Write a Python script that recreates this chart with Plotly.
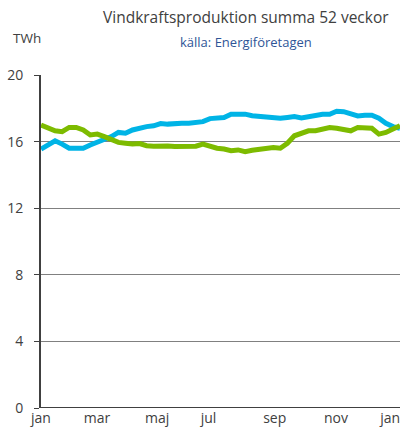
import plotly.graph_objects as go

weeks = list(range(1, 53))
green_vals = [17.0, 16.85, 16.65, 16.6, 16.85, 16.85, 16.7, 16.4, 16.45, 16.3,
              16.1, 15.95, 15.9, 15.85, 15.88, 15.75, 15.72, 15.76, 15.74, 15.7,
              15.7, 15.7, 15.72, 15.85, 15.7, 15.6, 15.55, 15.45, 15.5, 15.4,
              15.48, 15.55, 15.65, 15.65, 15.6, 15.9, 16.35, 16.5, 16.65, 16.65,
              16.72, 16.85, 16.8, 16.74, 16.65, 16.85, 16.85, 16.8, 16.45, 16.55,
              16.75, 16.95]
blue_vals = [15.55, 15.8, 16.05, 15.85, 15.6, 15.6, 15.6, 15.8, 15.95, 16.1,
             16.3, 16.55, 16.5, 16.7, 16.82, 16.9, 16.95, 17.08, 17.05, 17.1,
             17.1, 17.1, 17.12, 17.2, 17.38, 17.43, 17.45, 17.64, 17.66, 17.65,
             17.55, 17.5, 17.48, 17.42, 17.4, 17.45, 17.5, 17.42, 17.5, 17.58,
             17.64, 17.64, 17.82, 17.8, 17.65, 17.54, 17.58, 17.58, 17.4, 17.1,
             16.9, 16.8]
month_labels = ["jan", "mar", "maj", "jul", "sep", "nov", "jan"]
month_pos = [1.0, 8.95, 17.5, 24.8, 34.2, 42.9, 50.6]
y_ticks = [0, 4, 8, 12, 16, 20]

fig = go.Figure()
fig.add_trace(go.Scatter(x=weeks, y=blue_vals, mode="lines",
                         line=dict(color="#00B4E6", width=5), showlegend=False))
fig.add_trace(go.Scatter(x=weeks, y=green_vals, mode="lines",
                         line=dict(color="#7DBB00", width=5), showlegend=False))

fig.update_layout(
    width=404, height=435,
    margin=dict(l=41, r=4, t=75, b=27),
    paper_bgcolor="white", plot_bgcolor="white",
    font=dict(family="Open Sans, Liberation Sans, sans-serif", color="#404040", size=13),
    xaxis=dict(range=[1, 52], tickmode="array", tickvals=month_pos, ticktext=month_labels,
               showgrid=False, zeroline=False, showline=False, ticks="",
               automargin=False,
               tickfont=dict(size=14, color="#404040")),
    yaxis=dict(range=[0, 20], tickmode="array", tickvals=y_ticks,
               showgrid=True, gridcolor="#808080", gridwidth=1,
               zeroline=False, showline=True, linecolor="#404040", linewidth=2,
               ticks="outside", ticklen=5, tickcolor="#404040", tickwidth=1,
               ticklabelstandoff=8, automargin=False,
               tickfont=dict(size=14, color="#404040")),
    annotations=[
        dict(text="Vindkraftsproduktion summa 52 veckor", xref="paper", yref="paper",
             x=0.57, y=1.0, yshift=58, xanchor="center", yanchor="middle", showarrow=False,
             font=dict(size=15.5, color="#404040")),
        dict(text="källa: Energiföretagen", xref="paper", yref="paper",
             x=0.57, y=1.0, yshift=33, xanchor="center", yanchor="middle", showarrow=False,
             font=dict(size=13, color="#2F5597")),
        dict(text="TWh", xref="paper", yref="paper",
             x=0, xshift=-30, y=1.0, yshift=37, xanchor="left", yanchor="middle", showarrow=False,
             font=dict(size=13.5, color="#404040")),
    ],
)
fig.add_shape(type="line", xref="paper", yref="y", x0=0, x1=1, y0=0, y1=0,
              line=dict(color="#404040", width=2))
fig.write_html("out.html", post_script="document.body.style.margin='0';",
               config={"displayModeBar": False})
